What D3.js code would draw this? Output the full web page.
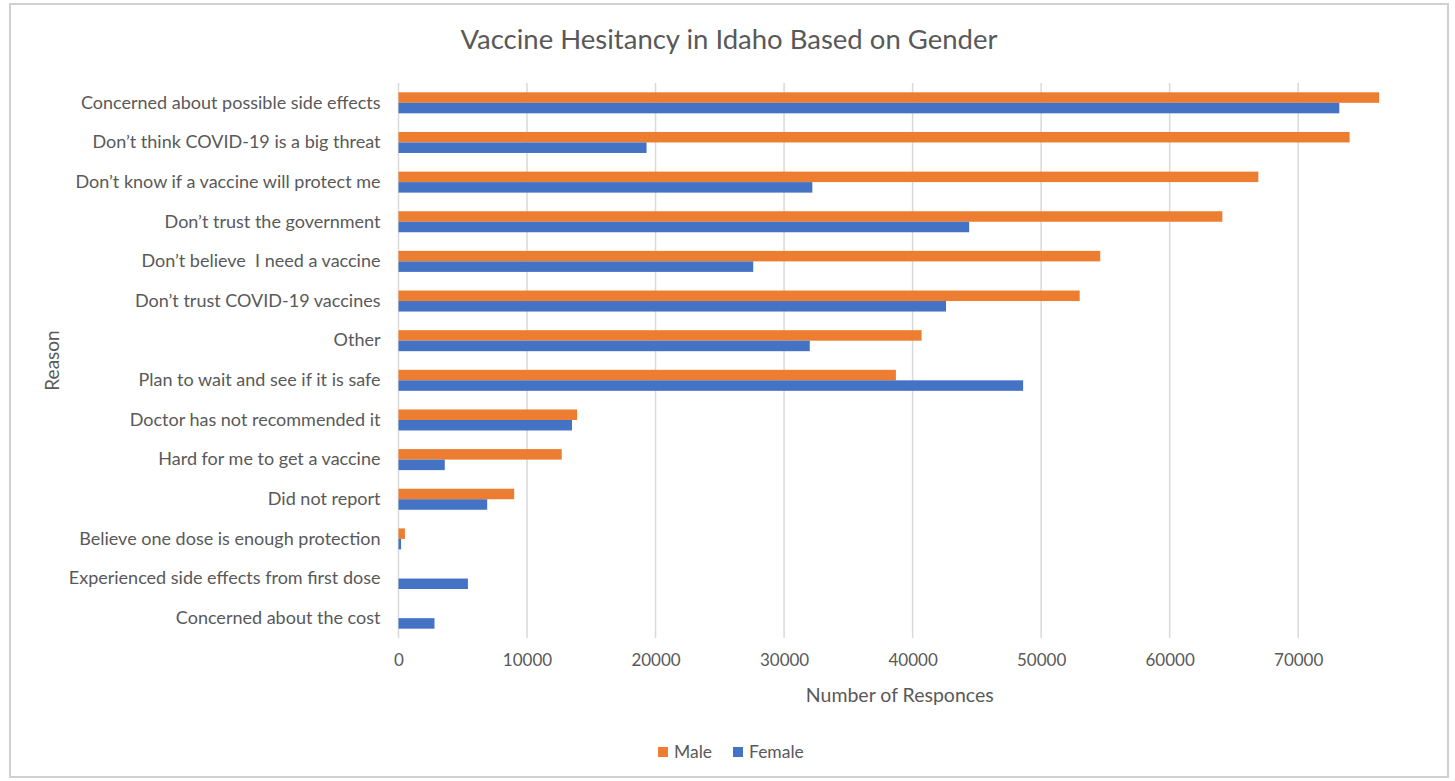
<!DOCTYPE html>
<html>
<head>
<meta charset="utf-8">
<script src="https://cdn.jsdelivr.net/npm/d3@7"></script>
<style>
  body { margin: 0; background: #fff; }
  text { font-family: Lato, "Open Sans", sans-serif; fill: #595959; }
</style>
</head>
<body>
<div id="chart"></div>
<script>
// reasons, top to bottom
const categories = [
  "Concerned about possible side effects",
  "Don\u2019t think COVID-19 is a big threat",
  "Don\u2019t know if a vaccine will protect me",
  "Don\u2019t trust the government",
  "Don\u2019t believe  I need a vaccine",
  "Don\u2019t trust COVID-19 vaccines",
  "Other",
  "Plan to wait and see if it is safe",
  "Doctor has not recommended it",
  "Hard for me to get a vaccine",
  "Did not report",
  "Believe one dose is enough protection",
  "Experienced side effects from first dose",
  "Concerned about the cost"
];
const male   = [76300, 74000, 66900, 64100, 54600, 53000, 40700, 38700, 13900, 12700, 9000, 500, 0, 0];
const female = [73200, 19300, 32200, 44400, 27600, 42600, 32000, 48600, 13500, 3600, 6900, 200, 5400, 2800];
const xTicks = [0, 10000, 20000, 30000, 40000, 50000, 60000, 70000];
const seriesNames = ["Male", "Female"];
const colors = ["#ED7D31", "#4472C4"];

const W = 1455, H = 781;
const margin = { top: 83, right: 54, bottom: 143, left: 398.5 };
const width = W - margin.left - margin.right;
const height = H - margin.top - margin.bottom;

const svg = d3.select("#chart").append("svg")
  .attr("width", W)
  .attr("height", H);

// chart frame
svg.append("rect")
  .attr("x", 10).attr("y", 4)
  .attr("width", 1438).attr("height", 773)
  .attr("fill", "#fff")
  .attr("stroke", "#D0D0D0")
  .attr("stroke-width", 2);

svg.append("text")
  .attr("x", 729).attr("y", 49)
  .attr("text-anchor", "middle")
  .style("font-size", "27.5px")
  .text("Vaccine Hesitancy in Idaho Based on Gender");

const g = svg.append("g")
  .attr("transform", "translate(" + margin.left + "," + margin.top + ")");

const x = d3.scaleLinear().domain([0, 78000]).range([0, width]);
const y = d3.scaleBand().domain(categories).range([0, height]).paddingInner(0.47).paddingOuter(0.235);
const y1 = d3.scaleBand().domain(seriesNames).range([0, y.bandwidth()]);

// gridlines
g.append("g")
  .selectAll("line")
  .data(xTicks)
  .join("line")
  .attr("x1", d => x(d)).attr("x2", d => x(d))
  .attr("y1", 0).attr("y2", height)
  .attr("stroke", "#D9D9D9")
  .attr("stroke-width", 1.5);

// x tick labels
g.append("g")
  .attr("transform", "translate(0," + height + ")")
  .call(d3.axisBottom(x).tickValues(xTicks).tickFormat(d3.format("d")).tickSize(0).tickPadding(16))
  .call(a => a.select(".domain").remove())
  .selectAll("text")
  .style("font-size", "17px")
  .attr("fill", "#595959");

// category labels
g.append("g")
  .call(d3.axisLeft(y).tickSize(0).tickPadding(18))
  .call(a => a.select(".domain").remove())
  .selectAll("text")
  .style("font-size", "18px")
  .style("white-space", "pre")
  .attr("fill", "#595959");

const rows = categories.map((c, i) => ({ c, vals: [male[i], female[i]] }));

g.append("g")
  .selectAll("g")
  .data(rows)
  .join("g")
  .attr("transform", d => "translate(0," + y(d.c) + ")")
  .selectAll("rect")
  .data(d => d.vals.map((v, j) => ({ v, s: seriesNames[j], col: colors[j] })))
  .join("rect")
  .attr("x", 0)
  .attr("y", d => y1(d.s))
  .attr("width", d => x(d.v))
  .attr("height", y1.bandwidth())
  .attr("fill", d => d.col);

// axis titles
svg.append("text")
  .attr("x", margin.left + width / 2).attr("y", 702)
  .attr("text-anchor", "middle")
  .style("font-size", "19.5px")
  .text("Number of Responces");

svg.append("text")
  .attr("transform", "translate(59," + (margin.top + height / 2) + ") rotate(-90)")
  .attr("text-anchor", "middle")
  .style("font-size", "19px")
  .text("Reason");

// legend
const legend = svg.append("g").attr("transform", "translate(658,747)");
const items = [{ name: "Male", col: colors[0], dx: 0 }, { name: "Female", col: colors[1], dx: 75 }];
items.forEach(it => {
  legend.append("rect")
    .attr("x", it.dx).attr("y", 0)
    .attr("width", 10).attr("height", 10)
    .attr("fill", it.col);
  legend.append("text")
    .attr("x", it.dx + 16).attr("y", 11)
    .style("font-size", "17.5px")
    .text(it.name);
});
</script>
</body>
</html>
